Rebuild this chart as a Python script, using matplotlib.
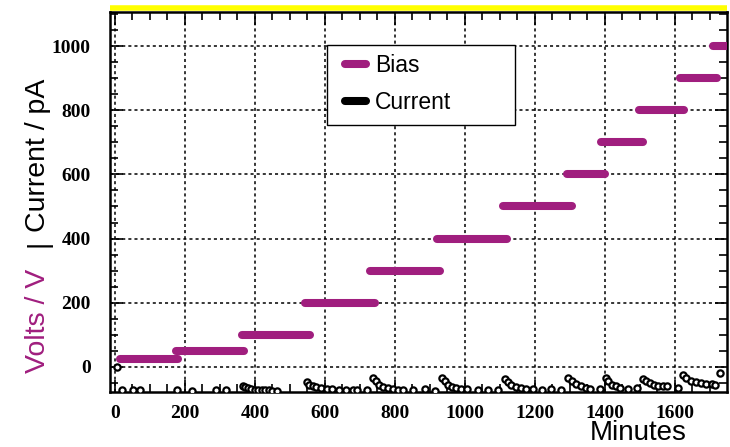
import matplotlib.pyplot as plt
from matplotlib.ticker import MultipleLocator
from matplotlib.patches import Rectangle

# bias steps (minutes, volts)
bias_start = [14, 175, 363, 543, 729, 920, 1108, 1291, 1389, 1497, 1614, 1709]
bias_end = [180, 370, 557, 743, 929, 1120, 1306, 1400, 1509, 1626, 1720, 1760]
bias_volts = [25, 50, 100, 200, 300, 400, 500, 600, 700, 800, 900, 1000]

# current readings (minutes, pA)
cur_t = [5, 19, 52, 71, 178, 219, 290, 318,
         366, 372, 380, 390, 400, 410, 420, 430, 440, 450, 463,
         548, 555, 565, 575, 590, 605, 620, 640, 660, 680, 691, 720,
         737, 745, 755, 765, 780, 795, 810, 823, 852, 886, 914,
         934, 942, 952, 962, 975, 990, 1005, 1037, 1066, 1094,
         1114, 1122, 1132, 1145, 1160, 1175, 1194, 1219, 1247, 1276,
         1295, 1305, 1318, 1332, 1345, 1357, 1386,
         1402, 1410, 1420, 1432, 1443, 1466, 1491,
         1509, 1518, 1528, 1540, 1552, 1565, 1577, 1609,
         1623, 1632, 1645, 1660, 1675, 1690, 1705, 1714, 1729]
cur_pa = [0, -72, -73, -72, -72, -74, -72, -73,
          -58, -62, -66, -70, -72, -72, -73, -72, -73, -74, -74,
          -47, -55, -60, -63, -66, -68, -70, -71, -72, -72, -73, -73,
          -35, -45, -55, -62, -66, -70, -72, -73, -73, -70, -74,
          -35, -45, -55, -62, -66, -68, -70, -72, -71, -73,
          -36, -46, -55, -62, -66, -68, -70, -73, -70, -72,
          -35, -45, -54, -60, -66, -68, -70,
          -35, -45, -55, -60, -65, -68, -66,
          -38, -45, -50, -55, -58, -60, -60, -65,
          -25, -35, -43, -47, -50, -52, -52, -55, -19]

purple = '#A01E7E'

fig = plt.figure(figsize=(7.3, 4.47), dpi=100)
ax = fig.add_axes([110/730, 1-392/447, 617/730, 380/447])

for i in range(len(bias_volts)):
    ax.plot([bias_start[i], bias_end[i]], [bias_volts[i], bias_volts[i]],
             color=purple, lw=5.8, solid_capstyle='round', zorder=3)
ax.plot(cur_t, cur_pa, 'o', ms=4.5, mfc='white', mec='black', mew=1.6, zorder=4)

ax.set_xlim(-14, 1749)
ax.set_ylim(-78, 1106)
ax.xaxis.set_major_locator(MultipleLocator(200))
ax.xaxis.set_minor_locator(MultipleLocator(50))
ax.yaxis.set_major_locator(MultipleLocator(200))
ax.yaxis.set_minor_locator(MultipleLocator(50))
ax.tick_params(which='both', direction='in', top=True, right=True, width=1.2)
ax.tick_params(which='major', length=9)
ax.tick_params(which='minor', length=6)
ax.tick_params(axis='x', pad=9)
ax.tick_params(axis='y', pad=14)
for lab in ax.get_xticklabels() + ax.get_yticklabels():
    lab.set_fontfamily('Liberation Serif')
    lab.set_fontweight('bold')
    lab.set_fontsize(14)
ax.grid(True, which='major', color='black', ls=(0, (2, 2)), lw=1.1)
for s in ax.spines.values():
    s.set_linewidth(1.8)

# yellow band along the top
ax.plot([0, 1], [1.01, 1.01], transform=ax.transAxes, color='yellow',
        lw=4, clip_on=False, solid_capstyle='butt')

# legend box drawn by hand, wider than the entries need
ax.add_patch(Rectangle((0.3517, 0.7026), 0.3047, 0.2106, transform=ax.transAxes,
                       facecolor='white', edgecolor='black', lw=1.0, zorder=5))
ax.plot([], [], color=purple, lw=5.8, solid_capstyle='round', label='Bias')
ax.plot([], [], color='black', lw=5.8, solid_capstyle='round', label='Current')
h, l = ax.get_legend_handles_labels()
leg = ax.legend(h[-2:], l[-2:], loc='upper left', bbox_to_anchor=(0.381, 0.89),
                borderaxespad=0, frameon=False, borderpad=0,
                prop={'family': 'Liberation Sans', 'size': 16.5}, handlelength=0.9,
                handletextpad=0.4, labelspacing=0.6)
leg.set_zorder(6)

fig.text(638/730, 1-433/447, 'Minutes', ha='center', va='center',
         family='Liberation Sans', fontsize=20)
fig.text(38/730, 1-373/447, 'Volts / V', rotation=90, ha='center', va='bottom',
         color=purple, family='Liberation Sans', fontsize=20.5)
fig.text(38/730, 1-243/447, '|', rotation=90, ha='center', va='center',
         color='black', family='Liberation Sans', fontsize=20.5)
fig.text(38/730, 1-232/447, 'Current / pA', rotation=90, ha='center', va='bottom',
         color='black', family='Liberation Sans', fontsize=20.5)

fig.savefig('out.png')
